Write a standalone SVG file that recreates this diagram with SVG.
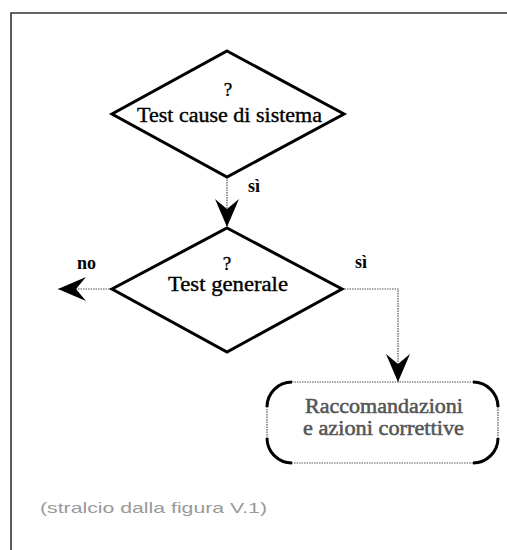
<svg xmlns="http://www.w3.org/2000/svg" width="507" height="550" viewBox="0 0 507 550">
<style>
.frame{fill:none;stroke:#333;stroke-width:1.6}
.dia{fill:#fff;stroke:#000;stroke-width:3;stroke-linejoin:miter}
.con{fill:none;stroke:#555;stroke-width:1.2;stroke-dasharray:1.5 1}
.t{font-family:"Liberation Serif","Times New Roman",serif;fill:#000;stroke:#000;stroke-width:0.35;text-anchor:middle}
.bt{font-family:"Liberation Serif","Times New Roman",serif;fill:#555;stroke:#555;stroke-width:0.5;text-anchor:middle}
.lbl{font-family:"Liberation Serif","Times New Roman",serif;fill:#000;font-size:18px;font-weight:bold}
.cap{font-family:"Liberation Sans",Arial,sans-serif;fill:#999;font-size:15px}
.corner{fill:none;stroke:#000;stroke-width:3}
</style>
<defs>
<marker id="arr" markerUnits="userSpaceOnUse" viewBox="0 -12 28 24" refX="28" refY="0" markerWidth="28" markerHeight="24" orient="auto">
<path d="M0,-12 L28,0 L0,12 L10,0 Z" fill="#000"/>
</marker>
</defs>
<rect width="507" height="550" fill="#fff"/>
<path class="frame" d="M11,551 L11,13 L508,13"/>
<g id="connectors">
<path class="con" d="M227,177 L227,227" marker-end="url(#arr)"/>
<path class="con" d="M112,289 L58,289" marker-end="url(#arr)"/>
<path class="con" d="M342,289 L398,289 L398,382" marker-end="url(#arr)"/>
<text class="lbl" x="248" y="192">sì</text>
<text class="lbl" x="77" y="269">no</text>
<text class="lbl" x="355" y="268">sì</text>
</g>
<g id="node-test-cause">
<polygon class="dia" points="227,51 344,114 227,177 112,114"/>
<text class="t" x="228" y="96" font-size="19">?</text>
<text class="t" x="229.5" y="122" font-size="20" textLength="185" lengthAdjust="spacingAndGlyphs">Test cause di sistema</text>
</g>
<g id="node-test-generale">
<polygon class="dia" points="227,228 342,289 227,352 112,289"/>
<text class="t" x="227" y="270" font-size="19">?</text>
<text class="t" x="228" y="291" font-size="20" textLength="120" lengthAdjust="spacingAndGlyphs">Test generale</text>
</g>
<g id="node-raccomandazioni">
<rect x="267" y="382" width="231" height="81" rx="25" ry="25" fill="#fff" stroke="#555" stroke-width="1.2" stroke-dasharray="1.5 1"/>
<path class="corner" d="M267,407 A25,25 0 0 1 292,382"/>
<path class="corner" d="M473,382 A25,25 0 0 1 498,407"/>
<path class="corner" d="M498,438 A25,25 0 0 1 473,463"/>
<path class="corner" d="M292,463 A25,25 0 0 1 267,438"/>
<text class="bt" x="384" y="413" font-size="20" textLength="158" lengthAdjust="spacingAndGlyphs">Raccomandazioni</text>
<text class="bt" x="383.5" y="435" font-size="20" textLength="161" lengthAdjust="spacingAndGlyphs">e azioni correttive</text>
</g>
<text class="cap" x="40" y="513" textLength="227" lengthAdjust="spacingAndGlyphs">(stralcio dalla figura V.1)</text>
</svg>
